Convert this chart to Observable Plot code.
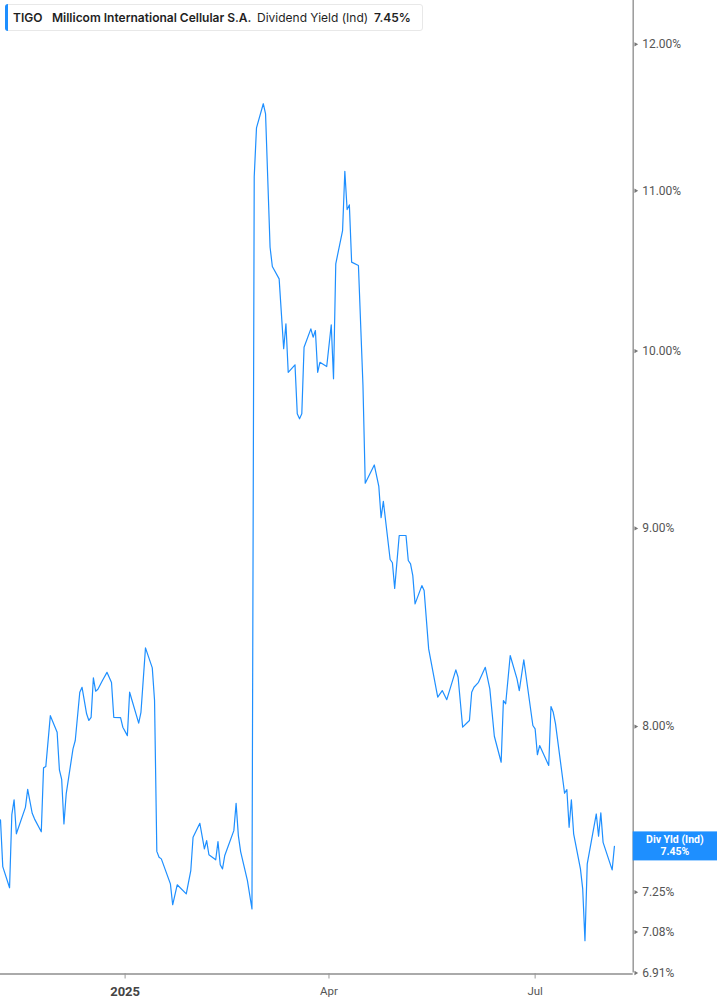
<!DOCTYPE html>
<html>
<head>
<meta charset="utf-8">
<script src="https://cdn.jsdelivr.net/npm/d3@7"></script>
<script src="https://cdn.jsdelivr.net/npm/@observablehq/plot@0.6"></script>
<style>
  html, body { margin: 0; padding: 0; background: #fff; }
  #wrap { position: relative; width: 717px; height: 1005px; overflow: hidden; font-family: Roboto, "Liberation Sans", sans-serif; }
  #header { position: absolute; left: 5px; top: 4px; width: 416px; height: 25px; border: 1px solid #e8e8e8; border-radius: 3px; background: #fff; font-family: Inter, "Noto Sans", sans-serif; font-size: 12px; color: #1f1f1f; }
  #header .bar { position: absolute; left: -1px; top: -1px; width: 3px; height: 27px; background: #1e8fff; border-radius: 3px 0 0 3px; }
  #header span { position: absolute; top: 5px; white-space: nowrap; }
  .b { font-weight: 600; }
</style>
</head>
<body>
<div id="wrap">
  <div id="chart"></div>
  <div id="header">
    <div class="bar"></div>
    <span class="b" style="left:7px">TIGO</span>
    <span class="b" style="left:46px">Millicom International Cellular S.A.</span>
    <span style="left:251px">Dividend Yield (Ind)</span>
    <span class="b" style="left:368px">7.45%</span>
  </div>
</div>
<script>
const dates = [
  "2024-11-07","2024-11-08","2024-11-11","2024-11-12","2024-11-13","2024-11-14","2024-11-18","2024-11-19","2024-11-21","2024-11-22",
  "2024-11-25","2024-11-26","2024-11-27","2024-11-29","2024-12-02","2024-12-03","2024-12-04","2024-12-05","2024-12-06","2024-12-09",
  "2024-12-10","2024-12-12","2024-12-13","2024-12-15","2024-12-16","2024-12-17","2024-12-18","2024-12-19","2024-12-20","2024-12-22",
  "2024-12-24","2024-12-26","2024-12-27","2024-12-30","2024-12-31","2025-01-02","2025-01-03","2025-01-07","2025-01-08","2025-01-10",
  "2025-01-13","2025-01-14","2025-01-15","2025-01-16","2025-01-17","2025-01-21","2025-01-22","2025-01-24","2025-01-28","2025-01-30",
  "2025-01-31","2025-02-03","2025-02-05","2025-02-06","2025-02-07","2025-02-10","2025-02-11","2025-02-12","2025-02-13","2025-02-14",
  "2025-02-18","2025-02-19","2025-02-20","2025-02-21","2025-02-24","2025-02-26","2025-02-27","2025-02-28","2025-03-03","2025-03-04",
  "2025-03-06","2025-03-07","2025-03-10","2025-03-12","2025-03-13","2025-03-14","2025-03-17","2025-03-18","2025-03-19","2025-03-20",
  "2025-03-21","2025-03-24","2025-03-25","2025-03-26","2025-03-27","2025-03-28","2025-03-31","2025-04-02","2025-04-03","2025-04-04",
  "2025-04-07","2025-04-08","2025-04-09","2025-04-10","2025-04-11","2025-04-14","2025-04-16","2025-04-17","2025-04-21","2025-04-23",
  "2025-04-24","2025-04-25","2025-04-28","2025-04-29","2025-04-30","2025-05-02","2025-05-05","2025-05-06","2025-05-07","2025-05-08",
  "2025-05-09","2025-05-12","2025-05-13","2025-05-15","2025-05-19","2025-05-21","2025-05-23","2025-05-27","2025-05-28","2025-05-30",
  "2025-06-02","2025-06-03","2025-06-04","2025-06-06","2025-06-09","2025-06-11","2025-06-13","2025-06-16","2025-06-17","2025-06-18",
  "2025-06-20","2025-06-23","2025-06-24","2025-06-26","2025-06-30","2025-07-01","2025-07-02","2025-07-03","2025-07-07","2025-07-08",
  "2025-07-09","2025-07-10","2025-07-14","2025-07-15","2025-07-16","2025-07-17","2025-07-18","2025-07-21","2025-07-22","2025-07-23",
  "2025-07-24","2025-07-28","2025-07-29","2025-07-30","2025-07-31","2025-08-04","2025-08-05"
];
const divYield = [
  7.568,7.361,7.269,7.592,7.659,7.506,7.625,7.707,7.598,7.573,
  7.515,7.806,7.812,8.052,7.973,7.797,7.753,7.550,7.686,7.895,
  7.934,8.165,8.189,8.061,8.029,8.044,8.235,8.170,8.179,8.222,
  8.262,8.212,8.044,8.043,7.997,7.957,8.165,8.016,8.068,8.383,
  8.284,8.125,7.428,7.402,7.395,7.286,7.196,7.282,7.243,7.344,
  7.491,7.553,7.439,7.476,7.413,7.391,7.471,7.369,7.351,7.410,
  7.520,7.643,7.498,7.427,7.300,7.178,11.093,11.419,11.584,11.515,
  10.637,10.516,10.439,10.014,10.164,9.875,9.919,9.634,9.606,9.634,
  10.023,10.133,10.083,10.123,9.875,9.934,9.909,10.158,9.837,10.533,
  10.743,11.128,10.878,10.908,10.543,10.522,9.798,9.245,9.346,9.227,
  9.057,9.146,8.835,8.818,8.685,8.962,8.962,8.830,8.812,8.751,
  8.605,8.699,8.674,8.378,8.141,8.173,8.129,8.274,8.238,7.997,
  8.029,8.165,8.189,8.213,8.287,8.181,7.954,7.832,8.125,8.109,
  8.345,8.230,8.173,8.324,8.005,7.989,7.867,7.910,7.817,8.096,
  8.068,8.013,7.689,7.706,7.535,7.659,7.506,7.351,7.264,7.044,
  7.373,7.595,7.495,7.600,7.468,7.347,7.45
];
const yTicks = [6.91, 7.08, 7.25, 8, 9, 10, 11, 12];
const xYearTicks = ["2025-01-01"];
const xYearLabels = ["2025"];
const xMonthTicks = ["2025-04-01", "2025-07-01"];
const xMonthLabels = ["Apr", "Jul"];
const seriesLabel = "Div Yld (Ind)";
const lastLabel = "7.45%";

const data = dates.map((d, i) => ({date: new Date(d + "T00:00:00Z"), value: divYield[i]}));
const xStart = new Date("2024-11-07T00:00:00Z");
const xEnd = new Date("2025-08-13T07:00:00Z");
const yMin = 6.91, yMax = 12.317;

const yearTicks = xYearTicks.map((d, i) => ({date: new Date(d + "T00:00:00Z"), label: xYearLabels[i]}));
const monthTicks = xMonthTicks.map((d, i) => ({date: new Date(d + "T00:00:00Z"), label: xMonthLabels[i]}));

const chart = Plot.plot({
  width: 717,
  height: 1005,
  marginLeft: 0,
  marginRight: 84.3,
  marginTop: 0,
  marginBottom: 32.5,
  style: {fontFamily: "Roboto, 'Liberation Sans', sans-serif", background: "transparent"},
  x: {type: "utc", domain: [xStart, xEnd], axis: null},
  y: {type: "log", domain: [yMin, yMax], axis: null},
  marks: [
    Plot.ruleY([yMin], {stroke: "#aaaaaa", strokeWidth: 2, dy: 1}),
    Plot.ruleX([xEnd], {stroke: "#999999", strokeWidth: 1.5, y1: yMin, y2: yMax}),
    Plot.tickX([...yearTicks, ...monthTicks], {x: "date", stroke: "#999", strokeWidth: 1, insetTop: 973, insetBottom: -6}),
    Plot.text(yearTicks, {x: "date", frameAnchor: "bottom", text: "label", dy: 19, fontWeight: "bold", fill: "#444", fontSize: 13, lineAnchor: "middle"}),
    Plot.text(monthTicks, {x: "date", frameAnchor: "bottom", text: "label", dy: 18, fill: "#555", fontSize: 11.5, lineAnchor: "middle"}),
    Plot.dot(yTicks, {x: () => xEnd, y: d => d, symbol: "triangle", r: 1.6, rotate: 90, fill: "#777", stroke: null, dx: 2.5}),
    Plot.text(yTicks, {x: () => xEnd, y: d => d, text: d => d.toFixed(2) + "%", textAnchor: "start", dx: 9, fill: "#555", fontSize: 12}),
    Plot.line(data, {x: "date", y: "value", stroke: "#1e8fff", strokeWidth: 1.2})
  ]
});
document.getElementById("chart").appendChild(chart);

// value label box at the right, centred on the last value
const svg = d3.select(chart);
const yLast = chart.scale("y").apply(divYield[divYield.length - 1]);
const xAxisPos = chart.scale("x").apply(xEnd);
const g = svg.append("g");
g.append("rect").attr("x", xAxisPos).attr("y", yLast - 14.5).attr("width", 717 - xAxisPos).attr("height", 29).attr("fill", "#1e8fff");
g.append("text").attr("x", (xAxisPos + 717) / 2).attr("y", yLast - 6).attr("text-anchor", "middle").attr("dominant-baseline", "middle")
  .attr("fill", "#fff").attr("font-weight", "bold").attr("font-size", 10.5).text(seriesLabel);
g.append("text").attr("x", (xAxisPos + 717) / 2).attr("y", yLast + 6.5).attr("text-anchor", "middle").attr("dominant-baseline", "middle")
  .attr("fill", "#fff").attr("font-weight", "bold").attr("font-size", 10.5).text(lastLabel);
</script>
</body>
</html>
